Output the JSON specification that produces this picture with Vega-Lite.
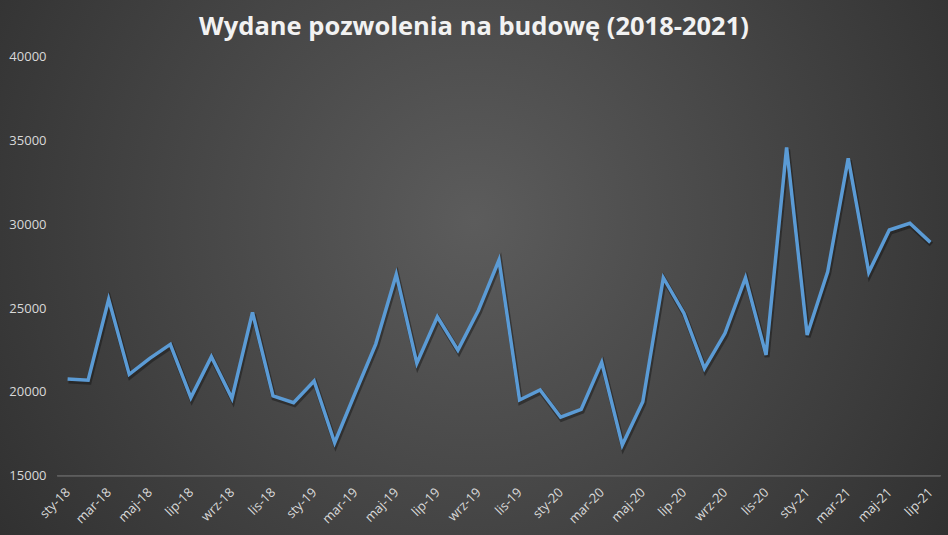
{
  "$schema": "https://vega.github.io/schema/vega-lite/v6.json",
  "width": 948,
  "height": 535,
  "autosize": {"type": "none"},
  "padding": 0,
  "background": "#2e2e2e",
  "title": {
    "text": "Wydane pozwolenia na budowę (2018-2021)",
    "anchor": "middle",
    "frame": "group",
    "offset": -40,
    "font": "Open Sans",
    "fontSize": 25.5,
    "fontWeight": "bold",
    "color": "#f2f2f2"
  },
  "view": {
    "stroke": null,
    "fill": {
      "gradient": "radial",
      "x1": 0.5, "y1": 0.45, "r1": 0,
      "x2": 0.5, "y2": 0.45, "r2": 0.75,
      "stops": [
        {"offset": 0, "color": "#5c5c5c"},
        {"offset": 1, "color": "#262626"}
      ]
    }
  },
  "data": {
    "values": [
      {"month": "sty-18", "permits": 20770},
      {"month": "lut-18", "permits": 20700},
      {"month": "mar-18", "permits": 25530},
      {"month": "kwi-18", "permits": 21050},
      {"month": "maj-18", "permits": 22010},
      {"month": "cze-18", "permits": 22840},
      {"month": "lip-18", "permits": 19660},
      {"month": "sie-18", "permits": 22100},
      {"month": "wrz-18", "permits": 19620},
      {"month": "paź-18", "permits": 24750},
      {"month": "lis-18", "permits": 19760},
      {"month": "gru-18", "permits": 19360},
      {"month": "sty-19", "permits": 20650},
      {"month": "lut-19", "permits": 16970},
      {"month": "mar-19", "permits": 19940},
      {"month": "kwi-19", "permits": 22860},
      {"month": "maj-19", "permits": 27020},
      {"month": "cze-19", "permits": 21710},
      {"month": "lip-19", "permits": 24490},
      {"month": "sie-19", "permits": 22500},
      {"month": "wrz-19", "permits": 24880},
      {"month": "paź-19", "permits": 27880},
      {"month": "lis-19", "permits": 19520},
      {"month": "gru-19", "permits": 20120},
      {"month": "sty-20", "permits": 18490},
      {"month": "lut-20", "permits": 18960},
      {"month": "mar-20", "permits": 21770},
      {"month": "kwi-20", "permits": 16830},
      {"month": "maj-20", "permits": 19420},
      {"month": "cze-20", "permits": 26820},
      {"month": "lip-20", "permits": 24700},
      {"month": "sie-20", "permits": 21410},
      {"month": "wrz-20", "permits": 23500},
      {"month": "paź-20", "permits": 26820},
      {"month": "lis-20", "permits": 22210},
      {"month": "gru-20", "permits": 34600},
      {"month": "sty-21", "permits": 23400},
      {"month": "lut-21", "permits": 27180},
      {"month": "mar-21", "permits": 33950},
      {"month": "kwi-21", "permits": 27140},
      {"month": "maj-21", "permits": 29670},
      {"month": "cze-21", "permits": 30070},
      {"month": "lip-21", "permits": 28930}
    ]
  },
  "encoding": {
    "x": {
      "field": "month",
      "type": "ordinal",
      "sort": null,
      "title": null,
      "scale": {
        "type": "point",
        "padding": 0,
        "range": [67.6, 930.4],
        "domain": ["sty-18", "lut-18", "mar-18", "kwi-18", "maj-18", "cze-18", "lip-18", "sie-18", "wrz-18", "paź-18", "lis-18", "gru-18",
                   "sty-19", "lut-19", "mar-19", "kwi-19", "maj-19", "cze-19", "lip-19", "sie-19", "wrz-19", "paź-19", "lis-19", "gru-19",
                   "sty-20", "lut-20", "mar-20", "kwi-20", "maj-20", "cze-20", "lip-20", "sie-20", "wrz-20", "paź-20", "lis-20", "gru-20",
                   "sty-21", "lut-21", "mar-21", "kwi-21", "maj-21", "cze-21", "lip-21"]
      },
      "axis": {
        "orient": "bottom",
        "offset": -59,
        "domain": false,
        "ticks": false,
        "grid": false,
        "labelAngle": -45,
        "labelAlign": "right",
        "labelBaseline": "middle",
        "labelPadding": 14,
        "labelOverlap": false,
        "labelBound": false,
        "labelFlush": false,
        "labelFont": "Open Sans",
        "labelFontSize": 13,
        "labelColor": "#d9d9d9",
        "values": ["sty-18", "mar-18", "maj-18", "lip-18", "wrz-18", "lis-18",
                   "sty-19", "mar-19", "maj-19", "lip-19", "wrz-19", "lis-19",
                   "sty-20", "mar-20", "maj-20", "lip-20", "wrz-20", "lis-20",
                   "sty-21", "mar-21", "maj-21", "lip-21"]
      }
    },
    "y": {
      "field": "permits",
      "type": "quantitative",
      "title": null,
      "scale": {"domain": [11459, 43403], "nice": false, "zero": false},
      "axis": {
        "orient": "left",
        "offset": -46,
        "domain": false,
        "ticks": false,
        "grid": false,
        "format": "d",
        "labelPadding": 0,
        "labelFont": "Open Sans",
        "labelFontSize": 13,
        "labelColor": "#d9d9d9",
        "values": [15000, 20000, 25000, 30000, 35000, 40000]
      }
    }
  },
  "layer": [
    {
      "mark": {"type": "rule", "color": "#5e5e5e", "strokeWidth": 1, "xOffset": -10, "x2Offset": 10},
      "encoding": {
        "x": {"datum": "sty-18", "type": "ordinal"},
        "x2": {"datum": "lip-21"},
        "y": {"datum": 15000, "type": "quantitative"}
      }
    },
    {
      "mark": {"type": "line", "color": "#111111", "opacity": 0.45, "strokeWidth": 5, "yOffset": 2, "xOffset": 1}
    },
    {
      "mark": {"type": "line", "color": "#5b9bd5", "strokeWidth": 3.5}
    }
  ]
}
